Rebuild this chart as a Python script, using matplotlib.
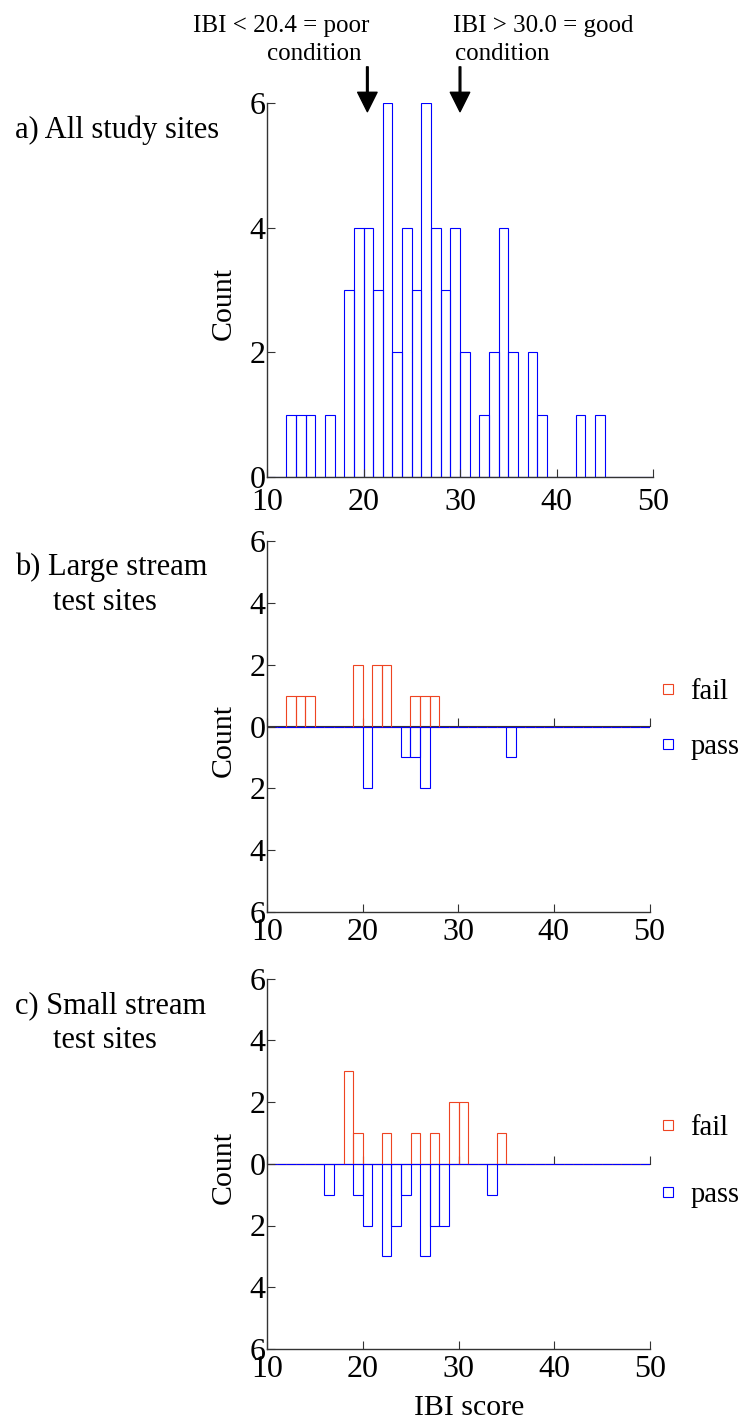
import numpy as np
import matplotlib
matplotlib.use('Agg')
import matplotlib.pyplot as plt
from matplotlib.lines import Line2D
from matplotlib.ticker import FuncFormatter

plt.rcParams['font.family'] = ['Liberation Serif', 'DejaVu Serif']

# bins of IBI score, one unit wide, from 10 to 50
bin_start = np.arange(10, 50)

# a) all study sites, counts per bin
all_sites = [0, 0, 1, 1, 1, 0, 1, 0, 3, 4,
             4, 3, 6, 2, 4, 3, 6, 4, 3, 4,
             2, 0, 1, 2, 4, 2, 0, 2, 1, 0,
             0, 0, 1, 0, 1, 0, 0, 0, 0, 0]

# b) large stream test sites
large_fail = [0, 0, 1, 1, 1, 0, 0, 0, 0, 2,
              0, 2, 2, 0, 0, 1, 1, 1, 0, 0,
              0, 0, 0, 0, 0, 0, 0, 0, 0, 0,
              0, 0, 0, 0, 0, 0, 0, 0, 0, 0]
large_pass = [0, 0, 0, 0, 0, 0, 0, 0, 0, 0,
              2, 0, 0, 0, 1, 1, 2, 0, 0, 0,
              0, 0, 0, 0, 0, 1, 0, 0, 0, 0,
              0, 0, 0, 0, 0, 0, 0, 0, 0, 0]

# c) small stream test sites
small_fail = [0, 0, 0, 0, 0, 0, 0, 0, 3, 1,
              0, 0, 1, 0, 0, 1, 0, 1, 0, 2,
              2, 0, 0, 0, 1, 0, 0, 0, 0, 0,
              0, 0, 0, 0, 0, 0, 0, 0, 0, 0]
small_pass = [0, 0, 0, 0, 0, 0, 1, 0, 0, 1,
              2, 0, 3, 2, 1, 0, 3, 2, 2, 0,
              0, 0, 0, 1, 0, 0, 0, 0, 0, 0,
              0, 0, 0, 0, 0, 0, 0, 0, 0, 0]

thresholds = [20.4, 30.0]
x_ticks = [10, 20, 30, 40, 50]

W, H = 746, 1421
BLUE = '#0000ff'
RED = '#ee4422'
SPINE = '#333333'
FS_TICK = 23
FS_TITLE = 22
FS_LABEL = 21.5
FS_LEG = 20.6
FS_NOTE = 18


def fx(px):
    return px / W


def fy(py):
    return 1 - py / H


fig = plt.figure(figsize=(W / 100, H / 100), dpi=100)

ax_a = fig.add_axes([fx(267), fy(477), fx(386), 374 / H])
ax_b = fig.add_axes([fx(267), fy(912), fx(382.5), 371 / H])
ax_c = fig.add_axes([fx(267), fy(1349), fx(383), 370.5 / H])


def style(ax, lo, xpad):
    ax.set_xlim(10, 50)
    ax.set_ylim(lo, 6)
    ax.set_xticks(x_ticks)
    ax.set_yticks(np.arange(lo, 7, 2))
    ax.yaxis.set_major_formatter(FuncFormatter(lambda v, p: f'{abs(v):.0f}'))
    for s in ['top', 'right']:
        ax.spines[s].set_visible(False)
    for s in ['left', 'bottom']:
        ax.spines[s].set_color(SPINE)
        ax.spines[s].set_linewidth(1)
    ax.tick_params(axis='both', direction='in', length=6, width=0.8,
                   color=SPINE, labelsize=FS_TICK)
    ax.tick_params(axis='y', pad=1)
    ax.tick_params(axis='x', pad=xpad)
    ax.patch.set_visible(False)


# a) all sites
style(ax_a, 0, 8)
ax_a.bar(bin_start, all_sites, width=1, align='edge', fill=False,
         edgecolor=BLUE, linewidth=0.8)

for t in thresholds:
    ax_a.annotate('', xy=(t, 5.86), xytext=(t, 6.58),
                  annotation_clip=False,
                  arrowprops=dict(facecolor='black', edgecolor='black',
                                  width=1.2, headwidth=14, headlength=14,
                                  shrink=0))

# b) and c) fail above, pass below
for ax, fail, ok in [(ax_b, large_fail, large_pass),
                     (ax_c, small_fail, small_pass)]:
    style(ax, -6, 4.5)
    sec = ax.secondary_xaxis(0.5)
    sec.set_xticks(x_ticks)
    sec.tick_params(axis='x', direction='out', length=6, width=0.8,
                    color=SPINE, labeltop=False, labelbottom=False)
    sec.spines['top'].set_color(SPINE)
    ax.bar(bin_start, fail, width=1, align='edge', fill=False,
           edgecolor=RED, linewidth=0.8)
    ax.bar(bin_start, -np.array(ok), width=1, align='edge', fill=False,
           edgecolor=BLUE, linewidth=0.8)

handles = [Line2D([], [], marker='s', linestyle='none', markersize=7,
                  markerfacecolor='none', markeredgecolor=RED, markeredgewidth=0.8),
           Line2D([], [], marker='s', linestyle='none', markersize=7,
                  markerfacecolor='none', markeredgecolor=BLUE, markeredgewidth=0.8)]
for yc, sp in [(719.5, 1.0), (1161.5, 1.45)]:
    fig.legend(handles, ['fail', 'pass'], loc='center left',
               bbox_to_anchor=(fx(660), fy(yc)), frameon=False,
               fontsize=FS_LEG, handlelength=0.55, handletextpad=0.5,
               labelspacing=sp, borderpad=0, borderaxespad=0)

# panel titles
fig.text(fx(15), fy(138), 'a) All study sites', fontsize=FS_TITLE, va='baseline')
fig.text(fx(15), fy(575), 'b) Large stream', fontsize=FS_TITLE, va='baseline')
fig.text(fx(53), fy(610), 'test sites', fontsize=FS_TITLE, va='baseline')
fig.text(fx(15), fy(1013), 'c) Small stream', fontsize=FS_TITLE, va='baseline')
fig.text(fx(53), fy(1048), 'test sites', fontsize=FS_TITLE, va='baseline')

# threshold notes
fig.text(fx(193), fy(32), 'IBI < 20.4 = poor', fontsize=FS_NOTE, va='baseline')
fig.text(fx(267), fy(60), 'condition', fontsize=FS_NOTE, va='baseline')
fig.text(fx(453), fy(32), 'IBI > 30.0 = good', fontsize=FS_NOTE, va='baseline')
fig.text(fx(455), fy(60), 'condition', fontsize=FS_NOTE, va='baseline')

# axis labels
for yc in [303, 740, 1167]:
    fig.text(fx(224), fy(yc), 'Count', fontsize=FS_LABEL, rotation=90,
             ha='center', va='center')
fig.text(fx(469), fy(1415), 'IBI score', fontsize=FS_LABEL, ha='center', va='baseline')

fig.savefig('out.png', dpi=100)
